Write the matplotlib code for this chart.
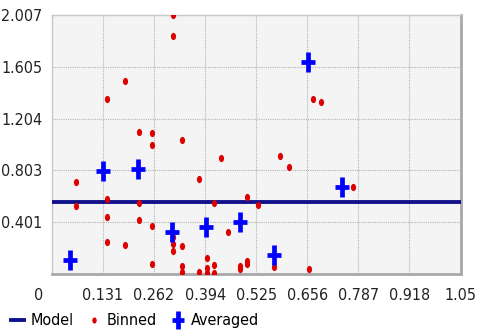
import matplotlib
matplotlib.use('Agg')
import matplotlib.pyplot as plt
import matplotlib.transforms as mtransforms
from matplotlib.path import Path
import numpy as np

# values
model_level = 0.56

binned_x = [0.310, 0.310, 0.188, 0.141, 0.224, 0.257, 0.257, 0.333, 0.434, 0.671,
            0.691, 0.585, 0.609, 0.063, 0.063, 0.142, 0.142, 0.142, 0.189, 0.224,
            0.224, 0.256, 0.256, 0.310, 0.310, 0.310, 0.378, 0.417, 0.500, 0.530,
            0.453, 0.334, 0.334, 0.334, 0.378, 0.399, 0.399, 0.399, 0.417, 0.417,
            0.484, 0.484, 0.500, 0.500, 0.570, 0.773, 0.660]
binned_y = [2.007, 1.844, 1.494, 1.359, 1.102, 1.089, 0.996, 1.035, 0.900, 1.359,
            1.333, 0.912, 0.825, 0.713, 0.524, 0.581, 0.441, 0.244, 0.226, 0.550,
            0.418, 0.373, 0.078, 0.285, 0.231, 0.179, 0.739, 0.550, 0.594, 0.537,
            0.324, 0.214, 0.057, 0.012, 0.013, 0.121, 0.044, 0.003, 0.066, 0.003,
            0.062, 0.037, 0.101, 0.078, 0.052, 0.671, 0.039]

avg_x = [0.046, 0.131, 0.221, 0.308, 0.395, 0.483, 0.570, 0.745, 0.657]
avg_y = [0.109, 0.796, 0.817, 0.327, 0.366, 0.405, 0.148, 0.677, 1.642]

x_ticks = [0, 0.131, 0.262, 0.394, 0.525, 0.656, 0.787, 0.918, 1.05]
x_labels = ['0', '0.131', '0.262', '0.394', '0.525', '0.656', '0.787', '0.918', '1.05']
y_ticks = [0.401, 0.803, 1.204, 1.605, 2.007]
y_labels = ['0.401', '0.803', '1.204', '1.605', '2.007']

plt.rcParams['font.family'] = ['DejaVu Sans']
plt.rcParams['font.stretch'] = 'condensed'

# the picture is a bit stretched vertically: tall dots and tall crosses
dot = Path.unit_circle().transformed(mtransforms.Affine2D().scale(0.72, 1.0))
cross = Path([(-0.7, 0), (0.7, 0), (0, -1), (0, 1)],
             [Path.MOVETO, Path.LINETO, Path.MOVETO, Path.LINETO])

fig = plt.figure(figsize=(4.8, 3.36), dpi=100)
ax = fig.add_axes([0.108, 0.185, 0.852, 0.770])
ax.set_facecolor('#f4f4f4')

ax.set_xlim(0, 1.05)
ax.set_ylim(0, 2.007)

ax.axhline(model_level, color='#12128c', lw=2.8, zorder=3, label='Model')
ax.plot(binned_x, binned_y, linestyle='none', marker=dot, color='#dd0000',
        ms=5.2, mec='none', zorder=4, label='Binned')
ax.plot(avg_x, avg_y, linestyle='none', marker=cross, color='#0000ff',
        ms=15, mew=3.4, zorder=5, label='Averaged')

ax.set_xticks(x_ticks)
ax.set_xticklabels(x_labels)
ax.set_yticks(y_ticks)
ax.set_yticklabels(y_labels)
ax.tick_params(length=0, labelsize=11.5, colors='#222222', pad=7)
ax.tick_params(axis='x', pad=10)

# the "0" label sits left of the corner in the reference
offset = mtransforms.ScaledTranslation(-13 / 100, 0, fig.dpi_scale_trans)
zero = ax.get_xticklabels()[0]
zero.set_transform(zero.get_transform() + offset)

ax.grid(True, color='#b4b4b4', linestyle=(0, (1, 1)), lw=0.8)
ax.set_axisbelow(True)

for side in ['top', 'left']:
    ax.spines[side].set_color('#c8c8c8')
    ax.spines[side].set_linewidth(1.0)
for side in ['bottom', 'right']:
    ax.spines[side].set_color('#a8a8a8')
    ax.spines[side].set_linewidth(2.0)

leg = fig.legend(loc='lower left', bbox_to_anchor=(0.0, -0.01), ncol=3, frameon=False,
                 fontsize=11.5, handlelength=0.8, handletextpad=0.4,
                 columnspacing=0.9, borderaxespad=0.3, markerscale=0.85)

plt.savefig('out.png', dpi=100)
